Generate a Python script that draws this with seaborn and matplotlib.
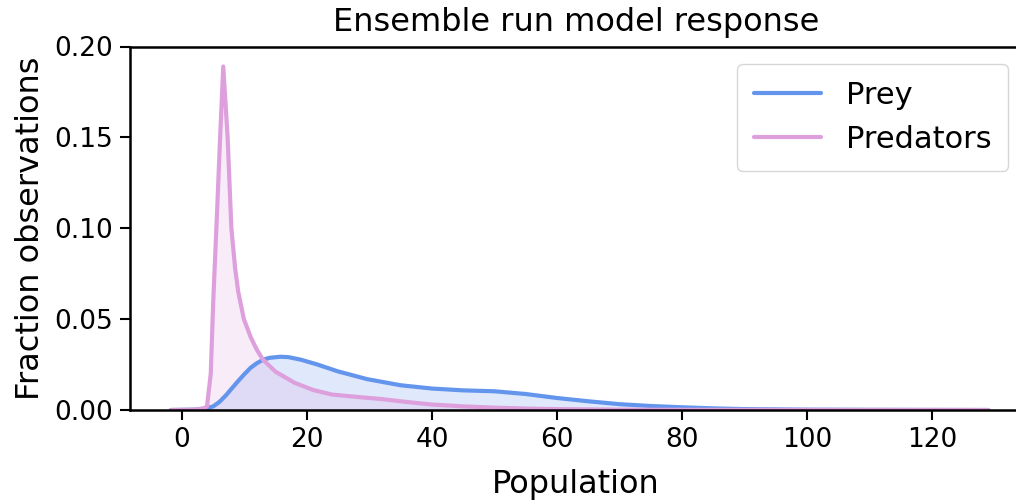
import numpy as np
import pandas as pd
import matplotlib
matplotlib.use("Agg")
import matplotlib.pyplot as plt
import seaborn as sns

# Data
prey_x = [-1.8, 2, 4, 5, 6, 7, 8, 9, 10, 11, 12, 13, 14, 15.7, 17, 19, 21.5, 25, 29.6, 35, 40, 45, 50, 55, 60, 65, 70, 75, 80, 85, 90, 100, 110, 129]
prey_y = [0, 0.0002, 0.001, 0.002, 0.0045, 0.008, 0.012, 0.016, 0.0198, 0.0233, 0.0258, 0.0277, 0.0287, 0.0293, 0.0291, 0.0277, 0.0252, 0.0212, 0.0170, 0.0136, 0.0118, 0.0108, 0.0103, 0.0088, 0.0066, 0.0048, 0.0032, 0.0022, 0.0015, 0.0009, 0.0005, 0.0002, 0.0001, 0]

pred_x = [-1.8, 2, 3.5, 4.0, 4.6, 5.0, 5.5, 6.1, 6.6, 7.3, 7.9, 8.5, 9.0, 9.9, 11, 12, 13, 15, 18, 21, 24, 28, 32, 36, 40, 45, 50, 55, 60, 70, 80, 129]
pred_y = [0, 0.0002, 0.0008, 0.002, 0.02, 0.06, 0.10, 0.15, 0.189, 0.15, 0.10, 0.078, 0.065, 0.05, 0.04, 0.033, 0.0275, 0.021, 0.015, 0.011, 0.0085, 0.0072, 0.006, 0.0044, 0.003, 0.002, 0.0013, 0.0008, 0.0005, 0.0002, 0.0001, 0]

series = ["Prey", "Predators"]
colors = ["cornflowerblue", "plum"]

df = pd.concat([
    pd.DataFrame({"Population": prey_x, "Fraction observations": prey_y, "series": "Prey"}),
    pd.DataFrame({"Population": pred_x, "Fraction observations": pred_y, "series": "Predators"}),
])

sns.set_style("ticks", rc={"axes.edgecolor": "black", "text.color": "black",
                           "axes.labelcolor": "black", "xtick.color": "black",
                           "ytick.color": "black"})
plt.rcParams['font.family'] = ['DejaVu Sans']

W, H = 1016, 503
fig = plt.figure(figsize=(10.16, 5.03), dpi=100)
left_px, right_px, top_px, bot_px = 130, 1022, 46.5, 410
ax = fig.add_axes([left_px / W, 1 - bot_px / H, (right_px - left_px) / W, (bot_px - top_px) / H])

sns.lineplot(data=df, x="Population", y="Fraction observations", hue="series",
             palette=dict(zip(series, colors)), linewidth=3, ax=ax, sort=False)
for name, c in zip(series, colors):
    sub = df[df["series"] == name]
    ax.fill_between(sub["Population"], sub["Fraction observations"], color=c, alpha=0.2, linewidth=0)

# 0 at px 182, 6.25 px per unit
ax.set_xlim((left_px - 182) / 6.25, (right_px - 182) / 6.25)
ax.set_ylim(0, 0.2)
ax.set_xticks([0, 20, 40, 60, 80, 100, 120])
ax.set_yticks([0, 0.05, 0.10, 0.15, 0.20])
ax.set_yticklabels(["0.00", "0.05", "0.10", "0.15", "0.20"])
ax.tick_params(labelsize=19, width=1.5, length=7, pad=5)
for s in ["left", "bottom", "top"]:
    ax.spines[s].set_linewidth(1.8)
sns.despine(ax=ax, top=False, right=True)
ax.set_xlabel("Population", fontsize=23, labelpad=12)
ax.set_ylabel("Fraction observations", fontsize=23, labelpad=6)
ax.set_title("Ensemble run model response", fontsize=23, pad=11)
leg = ax.legend(title=None, fontsize=22, loc="upper right", borderpad=0.55,
                handlelength=2.2, borderaxespad=0,
                bbox_to_anchor=(1008 / W, 1 - 64 / H), bbox_transform=fig.transFigure)
for line in leg.get_lines():
    line.set_linewidth(3)

fig.savefig("out.png", dpi=100)
